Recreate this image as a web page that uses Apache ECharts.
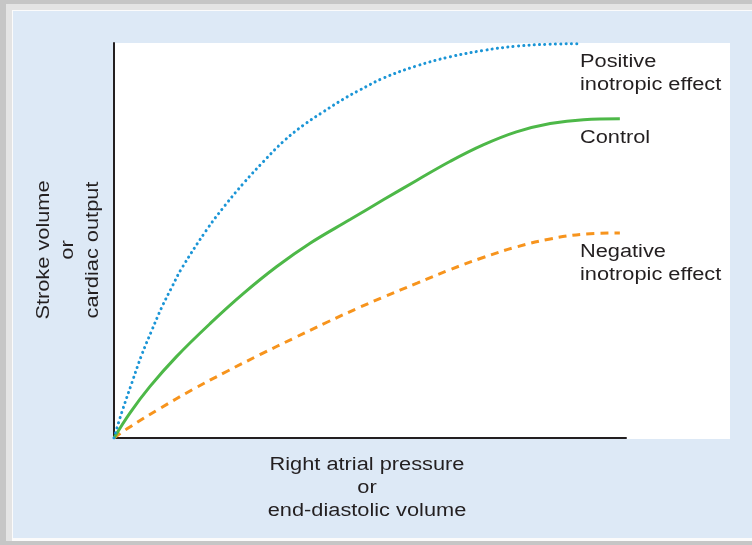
<!DOCTYPE html>
<html>
<head>
<meta charset="utf-8">
<script src="https://cdn.jsdelivr.net/npm/echarts@6/dist/echarts.min.js"></script>
<style>html,body{margin:0;padding:0;background:#dde9f6;}#c{width:752px;height:545px;}</style>
</head>
<body>
<div id="c"></div>
<script>
// Positive inotropic effect (blue dotted) [x, y] in % of axis range
var positiveCurve = [[0,0],[1.5,6.4],[3.5,14.0],[5.4,21.0],[7.4,27.3],[9.3,33.0],[11.3,38.2],[13.2,42.9],[18.1,52.7],[21.7,58.9],[25.3,64.5],[29.2,70.0],[33.1,75.1],[37.0,79.2],[40.9,82.6],[44.8,85.8],[48.0,88.1],[52.6,91.1],[59.1,94.2],[65.6,96.5],[72.1,98.1],[78.6,99.2],[85.2,99.7],[90.4,99.8]];
// Control (green solid)
var controlCurve = [[0,0],[3.1,6.3],[7.0,13.0],[12.2,20.6],[18.8,29.0],[25.3,36.6],[31.8,43.4],[38.3,49.3],[46.1,55.3],[52.6,60.3],[59.1,65.2],[65.6,70.0],[72.1,74.2],[78.6,77.5],[85.2,79.6],[91.7,80.6],[98.8,80.8]];
// Negative inotropic effect (orange dashed)
var negativeCurve = [[0,0],[3.1,2.8],[9.0,7.5],[15.4,12.3],[22.1,16.9],[28.5,21.1],[35.0,25.2],[41.6,29.3],[48.0,33.1],[52.5,35.6],[59.2,39.2],[65.6,42.6],[72.1,45.7],[78.7,48.4],[85.2,50.4],[91.6,51.6],[98.8,51.9]];
var curveLabels = ['Positive\ninotropic effect', 'Control', 'Negative\ninotropic effect'];
var xAxisTitle = 'Right atrial pressure\nor\nend-diastolic volume';
var yAxisTitle = 'Stroke volume\nor\ncardiac output';

var chart = echarts.init(document.getElementById('c'), null, {renderer: 'canvas'});
var font = '"Liberation Sans", Arial, sans-serif';
var txtFont = '18px ' + font;
var txtColor = '#231f20';
var sx = 1.21;
chart.setOption({
  animation: false,
  backgroundColor: '#dde9f6',
  graphic: [
    {type: 'rect', z: -20, shape: {x: 0, y: 0, width: 752, height: 545}, style: {fill: '#c6c6c6'}},
    {type: 'rect', z: -19, shape: {x: 6, y: 4, width: 746, height: 537}, style: {fill: '#e4e4e4'}},
    {type: 'rect', z: -18, shape: {x: 12, y: 10, width: 740, height: 531}, style: {fill: '#fbfbfb'}},
    {type: 'rect', z: -17, shape: {x: 13, y: 11, width: 739, height: 527}, style: {fill: '#dde9f6'}},
    {type: 'rect', z: -16, shape: {x: 114, y: 43, width: 616, height: 396}, style: {fill: '#ffffff'}},
    {type: 'text', x: 580, y: 51, scaleX: sx, style: {text: curveLabels[0], font: txtFont, fill: txtColor, lineHeight: 23, verticalAlign: 'top'}},
    {type: 'text', x: 580, y: 127, scaleX: sx, style: {text: curveLabels[1], font: txtFont, fill: txtColor, lineHeight: 23, verticalAlign: 'top'}},
    {type: 'text', x: 580, y: 241, scaleX: sx, style: {text: curveLabels[2], font: txtFont, fill: txtColor, lineHeight: 23, verticalAlign: 'top'}},
    {type: 'text', x: 367, y: 488.5, scaleX: sx, style: {text: xAxisTitle, font: txtFont, fill: txtColor, lineHeight: 23, align: 'center', verticalAlign: 'middle'}},
    {type: 'text', x: 68.5, y: 250, rotation: Math.PI / 2, scaleX: sx, style: {text: yAxisTitle, font: txtFont, fill: txtColor, lineHeight: 24.5, align: 'center', verticalAlign: 'middle'}}
  ],
  grid: {left: 114, top: 43, width: 512, height: 395, containLabel: false, outerBoundsMode: 'none'},
  xAxis: {
    type: 'value', min: 0, max: 100,
    axisLine: {show: true, lineStyle: {color: '#231f20', width: 2}},
    axisTick: {show: false}, axisLabel: {show: false}, splitLine: {show: false}
  },
  yAxis: {
    type: 'value', min: 0, max: 100,
    axisLine: {show: true, lineStyle: {color: '#231f20', width: 2}},
    axisTick: {show: false}, axisLabel: {show: false}, splitLine: {show: false}
  },
  series: [
    {type: 'line', data: negativeCurve, smooth: 0.4, showSymbol: false, z: 3,
     lineStyle: {color: '#f7941d', width: 3, type: [8, 6]}},
    {type: 'line', data: controlCurve, smooth: 0.4, showSymbol: false, z: 4,
     lineStyle: {color: '#4db848', width: 3}},
    {type: 'line', data: positiveCurve, smooth: 0.4, showSymbol: false, z: 5,
     lineStyle: {color: '#1b95d6', width: 3, type: [0.1, 5.2], cap: 'round'}}
  ]
});
</script>
</body>
</html>
